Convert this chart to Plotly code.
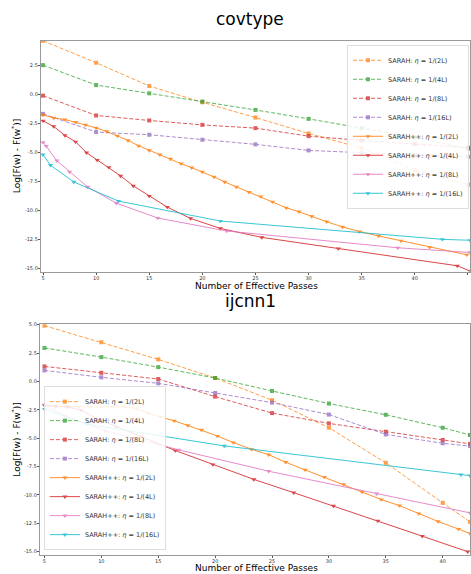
import plotly.graph_objects as go

# ---------------- covtype ----------------
cov_sarah_x = [5, 10, 15, 20, 25, 30, 35, 40, 45]
cov_sarah_2L = [4.65, 2.76, 0.75, -0.65, -1.97, -3.34, -4.6, -6.5, -7.75]
cov_sarah_4L = [2.55, 0.83, 0.12, -0.59, -1.31, -2.08, -2.88, -3.68, -4.66]
cov_sarah_8L = [-0.08, -1.79, -2.22, -2.6, -2.88, -3.57, -3.94, -4.26, -4.57]
cov_sarah_16L = [-1.65, -3.22, -3.45, -3.88, -4.28, -4.8, -5.03, -5.2, -5.35]

cov_pp2_x = [5, 6, 7.06, 8.07, 9, 10, 11, 12, 13, 14, 15, 16, 17, 18, 19, 20, 21.1, 22.1, 23.2,
             24.4, 25.5, 26.6, 27.9, 29.1, 30.3, 31.7, 33.2, 34.8, 36.6, 38.7, 41.4, 44.9]
cov_pp2_y = [-1.74, -2.0, -2.14, -2.37, -2.6, -2.86, -3.17, -3.54, -3.94, -4.4, -4.8, -5.17, -5.54,
             -5.95, -6.29, -6.66, -7.09, -7.52, -7.95, -8.4, -8.78, -9.23, -9.75, -10.09, -10.5,
             -10.95, -11.4, -11.8, -12.18, -12.6, -13.16, -13.8]
cov_pp4_x = [5, 6, 7.06, 8.07, 9.1, 10.1, 11.2, 12.3, 13.5, 15.0, 16.7, 18.9, 21.7, 25.6, 32.8, 44.0, 45.2]
cov_pp4_y = [-2.25, -2.74, -3.51, -4.06, -5.0, -5.63, -6.26, -7.0, -7.86, -8.74, -9.69, -10.67,
             -11.53, -12.3, -13.27, -14.75, -15.2]
cov_pp8_x = [5, 5.3, 6.3, 7.5, 9.2, 11.9, 15.8, 22.3, 38.4, 45.2]
cov_pp8_y = [-4.1, -4.43, -5.69, -6.66, -7.95, -9.35, -10.63, -11.75, -13.2, -13.6]
cov_pp16_x = [5, 5.7, 7.9, 12.1, 21.7, 42.6, 45.2]
cov_pp16_y = [-5.17, -6.08, -7.52, -9.17, -10.89, -12.47, -12.55]

# ---------------- ijcnn1 ----------------
ij_sarah_x = [5, 10, 15, 20, 25, 30, 35, 40, 42.4]
ij_sarah_2L = [4.91, 3.45, 1.94, 0.3, -1.65, -4.08, -7.17, -10.7, -12.37]
ij_sarah_4L = [2.95, 2.14, 1.26, 0.3, -0.84, -1.95, -2.94, -4.08, -4.72]
ij_sarah_8L = [1.32, 0.76, 0.21, -1.34, -2.79, -3.7, -4.43, -5.16, -5.5]
ij_sarah_16L = [0.97, 0.36, -0.17, -1.02, -1.87, -2.92, -4.67, -5.45, -5.7]

ij_pp2_x = [5, 6, 7, 8, 9, 10, 11, 12, 13.1, 14.1, 15.2, 16.4, 17.6, 18.8, 20.2, 21.6, 23.2, 24.7,
            26.2, 27.9, 29.6, 31.3, 32.9, 34.6, 36.2, 37.9, 39.6, 41.4, 42.4]
ij_pp2_y = [-2.07, -2.21, -2.24, -2.24, -2.24, -2.24, -2.24, -2.24, -2.39, -2.79, -3.14, -3.47,
            -3.88, -4.28, -4.81, -5.39, -5.98, -6.45, -7.12, -7.79, -8.43, -9.07, -9.74, -10.41,
            -10.94, -11.64, -12.34, -13.01, -13.4]
ij_pp4_x = [5, 6, 7, 8.2, 9.7, 11.3, 13.5, 16.5, 19.8, 23.4, 26.9, 30.4, 34.3, 38.2, 42.2]
ij_pp4_y = [-2.1, -2.21, -2.24, -2.53, -3.32, -4.0, -4.87, -6.09, -7.32, -8.63, -9.8, -10.97,
            -12.28, -13.63, -15.0]
ij_pp8_x = [5, 6.8, 10.3, 16.8, 24.7, 34.2, 42.4]
ij_pp8_y = [-2.1, -3.03, -4.34, -6.03, -7.91, -9.89, -11.58]
ij_pp16_x = [5, 8.7, 20.8, 41.6, 42.4]
ij_pp16_y = [-2.44, -3.76, -5.68, -8.22, -8.3]

names = ["SARAH: <i>\u03b7</i> = 1/(2L)", "SARAH: <i>\u03b7</i> = 1/(4L)",
         "SARAH: <i>\u03b7</i> = 1/(8L)", "SARAH: <i>\u03b7</i> = 1/(16L)",
         "SARAH++: <i>\u03b7</i> = 1/(2L)", "SARAH++: <i>\u03b7</i> = 1/(4L)",
         "SARAH++: <i>\u03b7</i> = 1/(8L)", "SARAH++: <i>\u03b7</i> = 1/(16L)"]
colors = ["#ff7f0e", "#2ca02c", "#d62728", "#9467bd", "#ff7f0e", "#d62728", "#e377c2", "#17becf"]

fig = go.Figure()

def add_set(xa, ya, leg, series):
    for i, (xs, ys) in enumerate(series):
        sarah = i < 4
        fig.add_trace(go.Scatter(
            x=xs, y=ys, mode="lines+markers", name=names[i],
            xaxis=xa, yaxis=ya, legend=leg,
            opacity=0.75 if sarah else 0.85,
            line=dict(color=colors[i], width=1, dash="4px,2px" if sarah else "solid"),
            marker=dict(color=colors[i], size=4 if sarah else 4.5,
                        symbol="square" if sarah else "triangle-down", line=dict(width=0)),
        ))

add_set("x", "y", "legend", [
    (cov_sarah_x, cov_sarah_2L), (cov_sarah_x, cov_sarah_4L), (cov_sarah_x, cov_sarah_8L),
    (cov_sarah_x, cov_sarah_16L), (cov_pp2_x, cov_pp2_y), (cov_pp4_x, cov_pp4_y),
    (cov_pp8_x, cov_pp8_y), (cov_pp16_x, cov_pp16_y)])
add_set("x2", "y2", "legend2", [
    (ij_sarah_x, ij_sarah_2L), (ij_sarah_x, ij_sarah_4L), (ij_sarah_x, ij_sarah_8L),
    (ij_sarah_x, ij_sarah_16L), (ij_pp2_x, ij_pp2_y), (ij_pp4_x, ij_pp4_y),
    (ij_pp8_x, ij_pp8_y), (ij_pp16_x, ij_pp16_y)])

W, H = 471, 574
axis_common = dict(showgrid=False, zeroline=False, showline=True, mirror=True,
                   linecolor="#999999", linewidth=1.2, ticks="outside", ticklen=2,
                   tickcolor="#555555", ticklabelstandoff=-1,
                   tickfont=dict(size=5, color="#333333", family="DejaVu Sans"))

fig.update_layout(
    width=W, height=H, margin=dict(l=0, r=0, t=0, b=0),
    paper_bgcolor="white", plot_bgcolor="white",
    font=dict(family="DejaVu Sans"),
    xaxis=dict(domain=[41 / W, 1.0], range=[4.8, 45.2], tickvals=[5, 10, 15, 20, 25, 30, 35, 40, 45],
               anchor="y", **axis_common),
    yaxis=dict(domain=[1 - 270 / H, 1 - 38 / H], range=[-15.25, 4.65],
               tickvals=[2.5, 0, -2.5, -5, -7.5, -10, -12.5, -15],
               ticktext=["2.5", "0.0", "-2.5", "-5.0", "-7.5", "-10.0", "-12.5", "-15.0"],
               anchor="x", **axis_common),
    xaxis2=dict(domain=[40 / W, 1.0], range=[4.6, 42.4], tickvals=[5, 10, 15, 20, 25, 30, 35, 40],
                anchor="y2", **axis_common),
    yaxis2=dict(domain=[1 - 555 / H, 1 - 323 / H], range=[-15.3, 5.03],
                tickvals=[5, 2.5, 0, -2.5, -5, -7.5, -10, -12.5, -15],
                ticktext=["5.0", "2.5", "0.0", "-2.5", "-5.0", "-7.5", "-10.0", "-12.5", "-15.0"],
                anchor="x2", **axis_common),
    legend=dict(x=1 - 1 / W, y=1 - 42 / H, xanchor="right", yanchor="top",
                bgcolor="rgba(255,255,255,0.85)", bordercolor="#dddddd", borderwidth=1,
                font=dict(size=6.5, color="#333333"), itemwidth=30, tracegroupgap=0),
    legend2=dict(x=44 / W, y=1 - 550 / H, xanchor="left", yanchor="bottom",
                 bgcolor="rgba(255,255,255,0.85)", bordercolor="#dddddd", borderwidth=1,
                 font=dict(size=6.5, color="#333333"), itemwidth=30, tracegroupgap=0),
    annotations=[
        dict(text="covtype", x=251 / W, y=1 - 16 / H, xref="paper", yref="paper",
             xanchor="center", yanchor="middle", showarrow=False, font=dict(size=17, color="black")),
        dict(text="ijcnn1", x=251 / W, y=1 - 300 / H, xref="paper", yref="paper",
             xanchor="center", yanchor="middle", showarrow=False, font=dict(size=17, color="black")),
        dict(text="Number of Effective Passes", x=257 / W, y=1 - 284 / H, xref="paper", yref="paper",
             xanchor="center", yanchor="middle", showarrow=False, font=dict(size=9, color="black")),
        dict(text="Number of Effective Passes", x=257 / W, y=1 - 568 / H, xref="paper", yref="paper",
             xanchor="center", yanchor="middle", showarrow=False, font=dict(size=9, color="black")),
        dict(text="Log[F(w) - F(w<sup>*</sup>)]", x=16 / W, y=1 - 154 / H, xref="paper", yref="paper",
             xanchor="center", yanchor="middle", showarrow=False, textangle=-90,
             font=dict(size=9, color="black")),
        dict(text="Log[F(w) - F(w<sup>*</sup>)]", x=16 / W, y=1 - 439 / H, xref="paper", yref="paper",
             xanchor="center", yanchor="middle", showarrow=False, textangle=-90,
             font=dict(size=9, color="black")),
    ],
)

fig.write_html("out.html", config={"displayModeBar": False},
               post_script="document.body.style.margin='0';")
